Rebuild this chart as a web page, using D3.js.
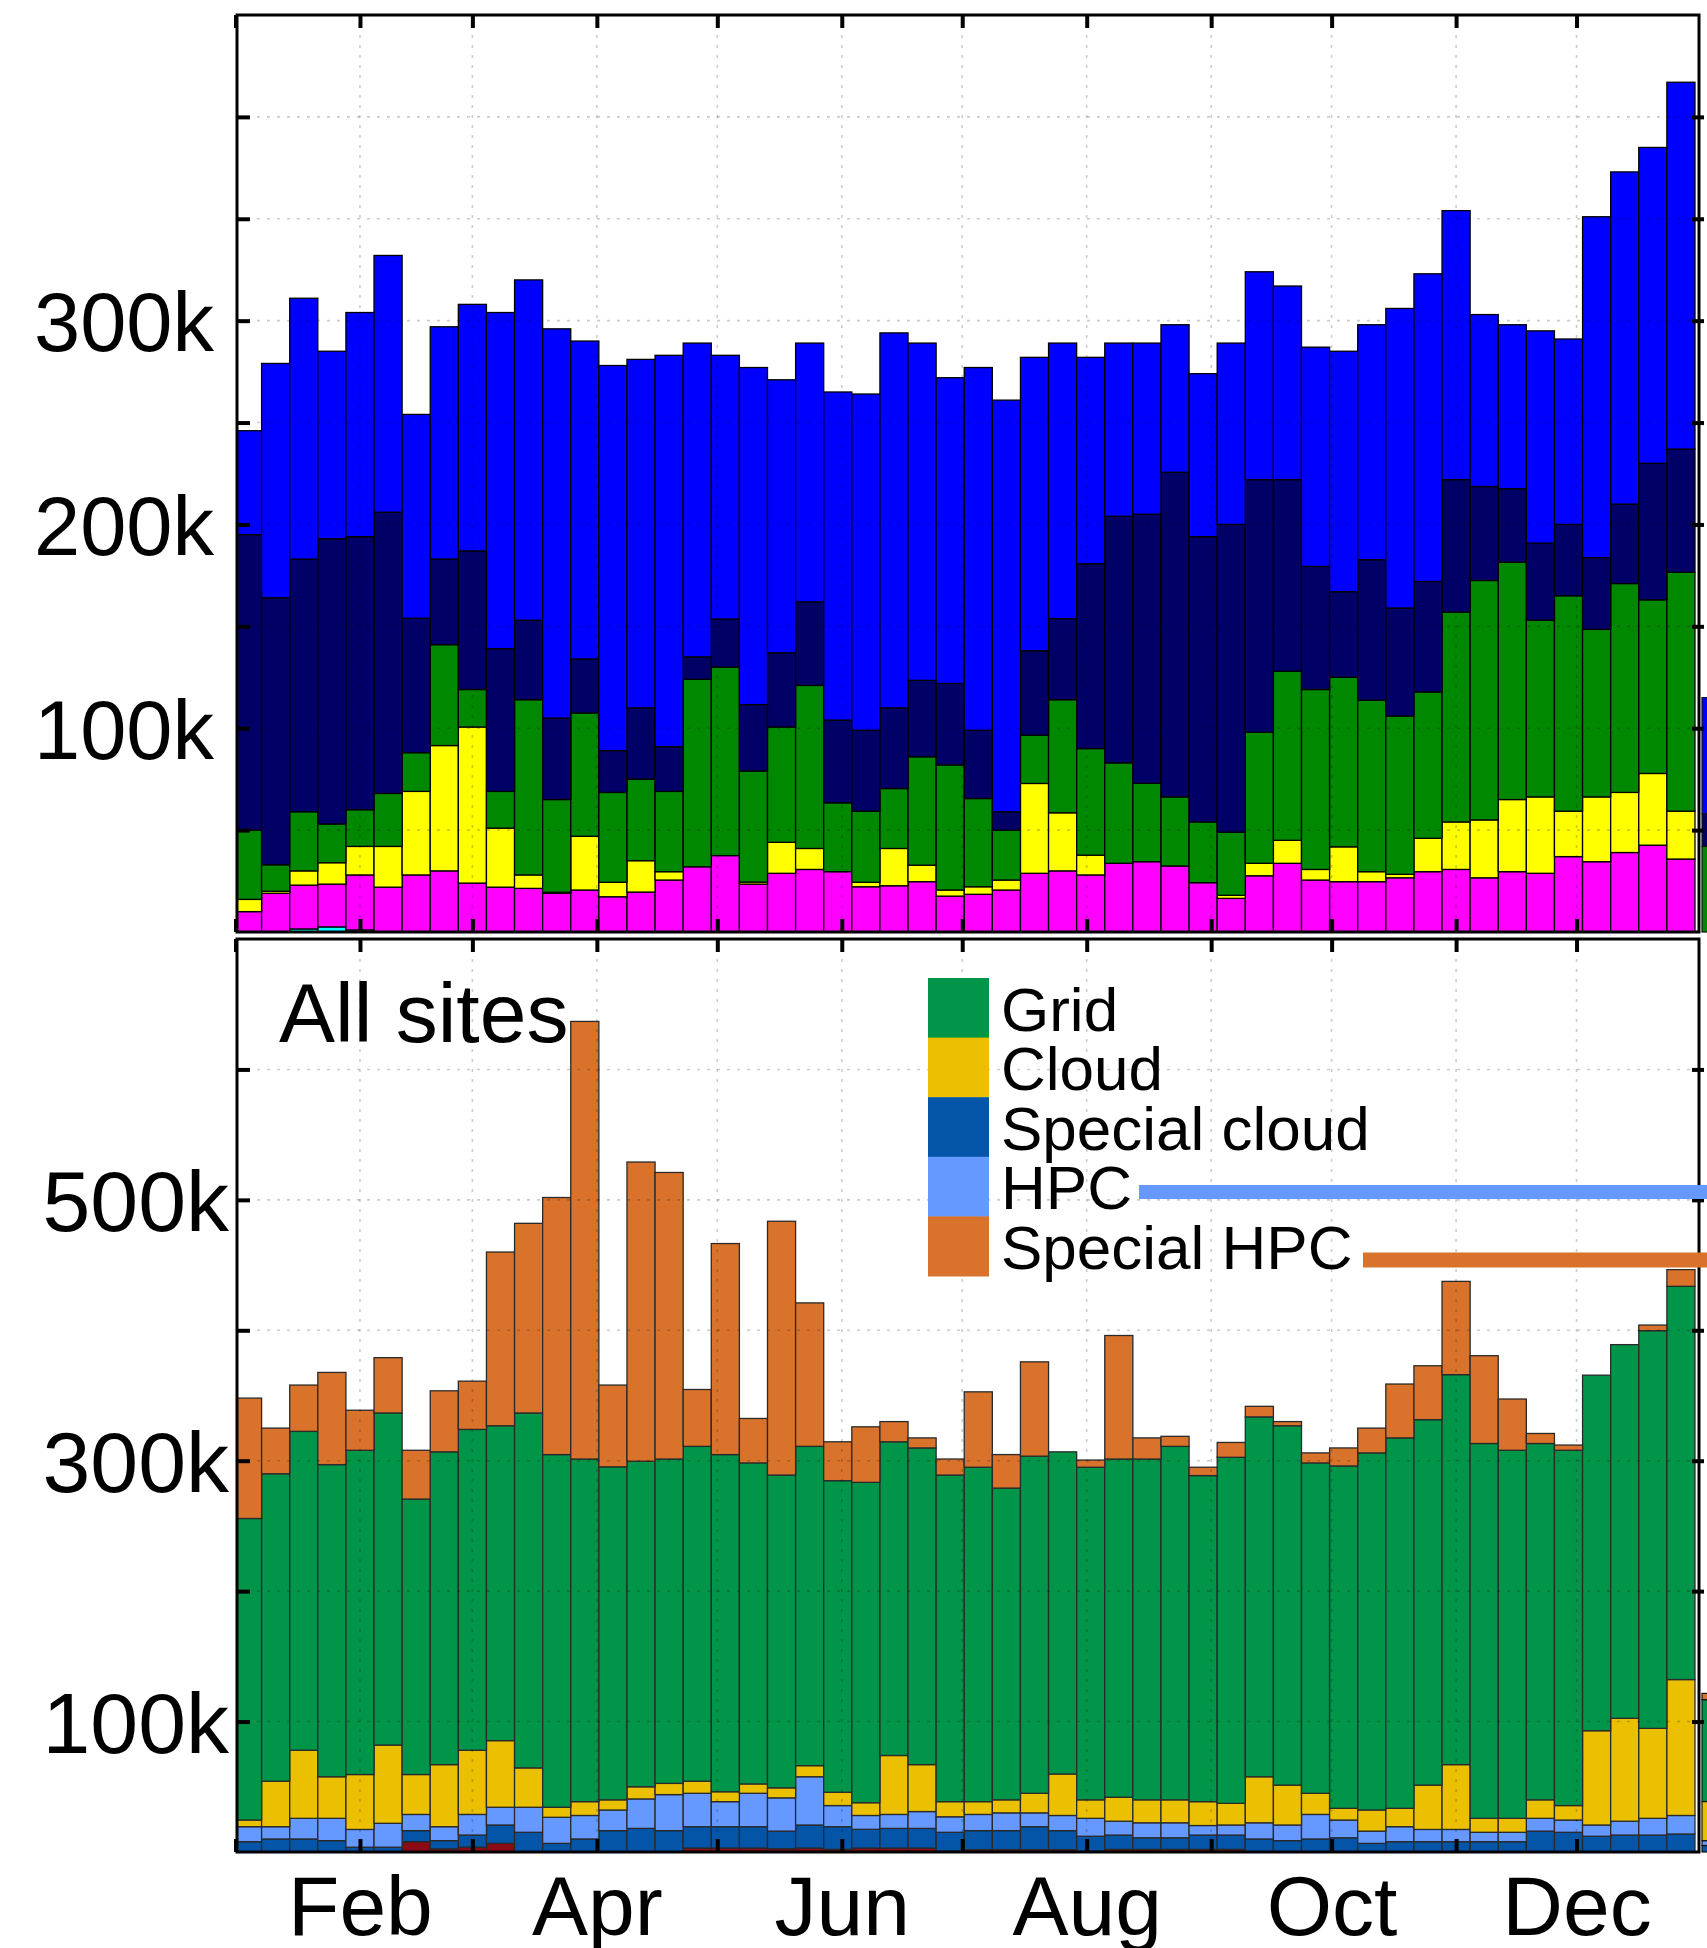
<!DOCTYPE html>
<html>
<head>
<meta charset="utf-8">
<title>Weekly usage, all sites</title>
<script src="https://cdn.jsdelivr.net/npm/d3@7/dist/d3.min.js"></script>
<style>
  body { margin: 0; background: #fff; }
  svg { display: block; font-family: "Liberation Sans", Arial, Helvetica, sans-serif; }
</style>
</head>
<body>
<script>
// Weeks (Monday starts) shown on the x axis
var weeks = d3.timeMonday.range(new Date(2012, 11, 31), new Date(2013, 11, 30));

// Upper panel, thousands per week, stacked bottom to top
var upperCyan    = [0,0,1.5,2.5,1,0,0,0,0,0, 0,0,0,0,0,0,0,0,0,0, 0,0,0,0,0,0,0,0,0,0, 0,0,0,0,0,0,0,0,0,0, 0,0,0,0,0,0,0,0,0,0, 0,0];
var upperMagenta = [10,19,21.5,21,27,22,28,30,24,22, 21.4,19,20.6,17.3,19.6,25.5,32,37.5,23.5,28.8, 30.7,29.6,22.2,22.7,24.7,17.6,18.5,20.6,28.8,30, 28,33.7,34.5,32.4,24.2,16.5,27.6,33.7,25.5,24.7, 24.7,26.6,29.6,30.7,26.6,29.6,28.8,37,34.5,39, 42.6,35.8];
var upperYellow  = [6,1,7,10.5,14,20,41,61.5,76.6,29, 6.6,0.5,26.4,7.1,15.4,4.1,0,0,1,15.2, 10.3,0,2.2,18.3,8.1,3,3.7,4.9,44.1,28.5, 9.7,0,0,0,0,1.5,6.1,11.3,5.2,17.1, 4.9,1.7,16.4,23.3,28.4,35.4,37.5,22.3,31.8,29.5, 35.2,23.5];
var upperGreen   = [34,13,29,19,18,26,19,49.5,18.4,18, 86,45.5,60.5,44.1,40,39.4,92,92.5,54.5,56.6, 80,33.8,34.9,29.4,53.2,61.4,43.3,24.5,23.7,55.5, 52.3,49.3,38.5,33.9,29.8,31,64.3,83,88.3,83.2, 84.1,77.7,71.8,103,117.5,116.5,86.7,105.7,82.2,102.5, 85.2,117.2];
var upperNavy    = [145,131,124,140,134,138,66,42,68,70, 39,40,26.5,20.5,35,22,11,23.6,32.6,36.4, 41,40.6,39.7,39.6,37.5,40,33.5,9,41.4,39.8, 90.7,121,132,159.3,140,151,124,94,60.4,42, 69,53,54.2,65,46.1,36,37.8,35,35.2,39, 67,60.5];
var upperBlue    = [51,115,128,92,110,126,100,114,121,165, 167,191,156,189,171,192,154,129.4,165.4,134, 127,161,165,184,165.5,150,178,202,144,135.2, 101.3,85,84,72.4,80,89,102,95,107.6,118, 115.3,147,151,132,84.4,80.5,104.2,91,167.3,163, 155,180];

// Lower panel, thousands per week, stacked bottom to top
var lowerOther        = [0,0,0,0,0,0,7.9,2.4,3.7,6.6, 0,0,0,0,0,0,3,3,3,2.5, 3,2,3,3,3,0.5,1.8,1.8,1.8,1.8, 0.5,2,2,2,2,2,0,0,0,0, 0,0,0,0,0,0,0,0,0,0, 0,0];
var lowerSpecialCloud = [7.9,10,10,8.7,3.7,3.7,8.5,6.3,9.3,14.1, 15.1,6.6,10,16.4,18.1,16.4,16.4,16.4,16.4,13.5, 17.7,17.4,14.4,15.1,15.1,14.6,14.6,14.6,17.6,14.6, 11.6,11,8.9,8.9,11,11,10,8.7,10,10.9, 6.6,7.9,7.9,7.9,7.9,7.9,16,15.1,12.1,13, 13,13.8];
var lowerHpc          = [11.5,9.4,15.8,17.1,13.6,18.3,12.4,10.7,15.8,13.6, 19.2,20,18,15.8,22.6,27.6,25.6,19.2,25.6,25.5, 37,16.2,10.6,10.7,12.9,11.9,12.4,13.6,10.6,11.6, 13.7,10.6,11.5,11.5,7.3,7.7,12.4,12,18.8,13.6, 9.4,11.5,9.4,9.4,7.2,7.2,9.8,9.4,8.6,10.6, 12.8,14.2];
var lowerCloud        = [5.1,34.9,52.2,31.9,42.1,60,30.6,47.6,49.2,51.1, 30.2,7.7,10.6,7.8,9.3,8.6,9.3,7.6,7.2,7.7, 8.5,10.2,9.8,45.2,36,11.6,9.8,10,15,31.8, 14.2,18.4,17.6,17.6,18.3,16.6,35.3,30.6,16.2,9, 16.2,14.1,34,49.7,10.7,10.7,14.2,11.1,72.3,78.9, 69,104.2];
var lowerGrid         = [231.2,235.7,244.5,239.3,248.6,254.6,211.2,239.8,246,241.4, 272.1,270.4,262.7,255.3,249.6,248.7,256.7,258.5,246.1,239.8, 244.8,238.9,245.6,240.5,242.8,250.4,256.4,239,258.5,247, 255,259.3,261.3,271,250,265.3,275.9,275.5,253.3,262.5, 273.8,284,280.2,299,287.4,282.2,273.2,272.4,272.6,286.5, 304.9,301.5];
var lowerSpecialHpc   = [92.3,35,35.5,70.7,30.7,42.4,37.4,46.8,37,133.2, 145.4,197.1,335.5,62.7,229.4,219.7,43.6,161.8,34.1,194.6, 110,29.8,42.6,15.5,7.7,12.3,57.8,25.7,72.3,0, 5.5,94.7,16.2,7.7,6.4,11.4,8.1,3.2,7.7,13.8, 19,41.3,41.3,71.5,67.3,39.3,7.7,4,0,0, 4.3,12.8];

// First bar of the neighbouring panel, cut off at the right edge
var nextUpper = [0, 0, 0, 42, 16, 57];
var nextLower = [0, 5, 3.7, 30, 78.1, 4.8];

// Axis labels
var monthLabels = {1: "Feb", 3: "Apr", 5: "Jun", 7: "Aug", 9: "Oct", 11: "Dec"};
var upperTicks = [50, 100, 150, 200, 250, 300, 350, 400];
var upperTickLabels = {100: "100k", 200: "200k", 300: "300k"};
var lowerTicks = [100, 200, 300, 400, 500, 600];
var lowerTickLabels = {100: "100k", 300: "300k", 500: "500k"};
var legendNames = ["Grid", "Cloud", "Special cloud", "HPC", "Special HPC"];

var upperKeys   = ["cyan", "magenta", "yellow", "green", "navy", "blue"];
var upperColors = ["#00ffff", "#ff00ff", "#ffff00", "#008800", "#000066", "#0000ff"];
var lowerKeys   = ["other", "specialCloud", "hpc", "cloud", "grid", "specialHpc"];
var lowerColors = ["#8c0a14", "#0455a7", "#6699ff", "#ebc000", "#009548", "#d9732b"];

var upperRows = weeks.map(function(w, i) {
  return {week: w, cyan: upperCyan[i], magenta: upperMagenta[i], yellow: upperYellow[i],
          green: upperGreen[i], navy: upperNavy[i], blue: upperBlue[i]};
});
var lowerRows = weeks.map(function(w, i) {
  return {week: w, other: lowerOther[i], specialCloud: lowerSpecialCloud[i], hpc: lowerHpc[i],
          cloud: lowerCloud[i], grid: lowerGrid[i], specialHpc: lowerSpecialHpc[i]};
});

var svgWidth = 1707;
var svgHeight = 1948;
var left = 237, right = 1699;

var svg = d3.select("body").append("svg")
            .attr("width", svgWidth)
            .attr("height", svgHeight);

var x = d3.scaleTime()
          .domain([new Date(2013, 0, 1), new Date(2014, 0, 1)])
          .range([235.5, 1701]);
var months = d3.timeMonth.range(new Date(2013, 0, 1), new Date(2014, 0, 1));

// bars sit half a day after the Monday mark
function barStart(d) { return x(d3.timeHour.offset(d, 12)); }
function barEnd(d) { return x(d3.timeHour.offset(d, 12 + 24 * 7)); }

function drawPanel(p) {
  var y = d3.scaleLinear().domain([0, p.max]).range([p.bottom, p.top]);

  var clipId = "clip-" + p.name;
  svg.append("clipPath").attr("id", clipId)
     .append("rect")
     .attr("x", left).attr("y", p.top)
     .attr("width", right - left).attr("height", p.bottom - p.top);

  // neighbouring panel stub (outside the frame, cut by the page edge)
  var stubDate = new Date(2014, 0, 1, 6);
  var stubTop = 0;
  p.stub.forEach(function(v, k) {
    if (v > 0) {
      svg.append("rect")
         .attr("x", x(stubDate))
         .attr("y", y(stubTop + v))
         .attr("width", 30)
         .attr("height", y(stubTop) - y(stubTop + v))
         .attr("fill", p.colors[k])
         .attr("stroke", "#111")
         .attr("stroke-width", 1.2);
    }
    stubTop += v;
  });

  var series = d3.stack().keys(p.keys)(p.rows);
  var bars = svg.append("g").attr("clip-path", "url(#" + clipId + ")");
  bars.selectAll("g")
      .data(series)
      .enter()
      .append("g")
      .attr("fill", function(s, k) { return p.colors[k]; })
      .selectAll("rect")
      .data(function(s) { return s.filter(function(d) { return d[1] - d[0] > 0; }); })
      .enter()
      .append("rect")
      .attr("x", function(d) { return barStart(d.data.week); })
      .attr("y", function(d) { return y(d[1]); })
      .attr("width", function(d) { return barEnd(d.data.week) - barStart(d.data.week); })
      .attr("height", function(d) { return y(d[0]) - y(d[1]); })
      .attr("stroke", p.stroke)
      .attr("stroke-width", 1.3);

  // dotted grid on top of the bars
  var grid = svg.append("g")
                .attr("stroke", "#000")
                .attr("stroke-opacity", 0.2)
                .attr("stroke-width", 1.6)
                .attr("stroke-dasharray", "3,7");
  grid.selectAll(".h").data(p.ticks).enter().append("line")
      .attr("x1", left).attr("x2", right)
      .attr("y1", function(d) { return y(d); })
      .attr("y2", function(d) { return y(d); });
  grid.selectAll(".v").data(months.slice(1)).enter().append("line")
      .attr("x1", function(d) { return x(d); })
      .attr("x2", function(d) { return x(d); })
      .attr("y1", p.top).attr("y2", p.bottom);

  // axes with inward ticks on all four sides
  var yLeft = svg.append("g")
                 .attr("transform", "translate(" + left + ",0)")
                 .call(d3.axisLeft(y).tickValues(p.ticks).tickSize(-13).tickPadding(p.labelPad)
                         .tickFormat(function(d) { return p.labels[d] || ""; }));
  yLeft.selectAll("text").attr("font-size", p.labelSize).attr("fill", "#000").attr("dy", "0.36em")
       .attr("font-family", "'Liberation Sans', Arial, sans-serif");

  var yRight = svg.append("g")
                  .attr("transform", "translate(" + (right + 5) + ",0)")
                  .call(d3.axisRight(y).tickValues(p.ticks).tickSize(-12).tickFormat(""));

  var xTop = svg.append("g")
                .attr("transform", "translate(0," + p.top + ")")
                .call(d3.axisTop(x).tickValues(months).tickSize(-13).tickFormat(""));

  var xBottom = svg.append("g")
                   .attr("transform", "translate(0," + p.bottom + ")")
                   .call(d3.axisBottom(x).tickValues(months).tickSize(-13).tickPadding(23)
                           .tickFormat(function(d) { return p.monthText ? (monthLabels[d.getMonth()] || "") : ""; }));
  xBottom.selectAll("text").attr("font-size", 84).attr("fill", "#000")
         .attr("font-family", "'Liberation Sans', Arial, sans-serif");

  [yLeft, yRight, xTop, xBottom].forEach(function(a) {
    a.select(".domain").remove();
    a.selectAll(".tick line").attr("stroke", "#000").attr("stroke-width", 4);
  });

  svg.append("rect")
     .attr("x", left).attr("y", p.top)
     .attr("width", right - left).attr("height", p.bottom - p.top)
     .attr("fill", "none")
     .attr("stroke", "#000")
     .attr("stroke-width", 3);

  return y;
}

drawPanel({name: "upper", top: 15, bottom: 932, max: 450, keys: upperKeys, colors: upperColors,
           rows: upperRows, stub: nextUpper, stroke: "#000", ticks: upperTicks,
           labels: upperTickLabels, labelPad: 23, labelSize: 83, monthText: false});

drawPanel({name: "lower", top: 939, bottom: 1852, max: 700, keys: lowerKeys, colors: lowerColors,
           rows: lowerRows, stub: nextLower, stroke: "#2a2a2a", ticks: lowerTicks,
           labels: lowerTickLabels, labelPad: 8, labelSize: 86, monthText: true});

// Panel title
svg.append("text")
   .attr("x", 279)
   .attr("y", 1042)
   .attr("font-size", 84)
   .attr("fill", "#000")
   .text("All sites");

// Legend: swatches stacked without gaps
var legendColors = [lowerColors[4], lowerColors[3], lowerColors[1], lowerColors[2], lowerColors[5]];
var legendTop = 978, legendRow = 59.6;
var legend = svg.append("g");
legend.selectAll("rect")
      .data(legendNames)
      .enter()
      .append("rect")
      .attr("x", 928)
      .attr("y", function(d, i) { return legendTop + i * legendRow; })
      .attr("width", 61)
      .attr("height", legendRow + 0.5)
      .attr("fill", function(d, i) { return legendColors[i]; });
legend.selectAll("text")
      .data(legendNames)
      .enter()
      .append("text")
      .attr("x", 1001)
      .attr("y", function(d, i) { return legendTop + (i + 1) * legendRow - 7; })
      .attr("font-size", 62)
      .attr("fill", "#000")
      .text(function(d) { return d; });

// Marker lines after HPC and Special HPC, running off the right edge
svg.append("line")
   .attr("x1", 1139).attr("x2", svgWidth)
   .attr("y1", 1192).attr("y2", 1192)
   .attr("stroke", lowerColors[2]).attr("stroke-width", 14);
svg.append("line")
   .attr("x1", 1363).attr("x2", svgWidth)
   .attr("y1", 1260).attr("y2", 1260)
   .attr("stroke", lowerColors[5]).attr("stroke-width", 15);
</script>
</body>
</html>
